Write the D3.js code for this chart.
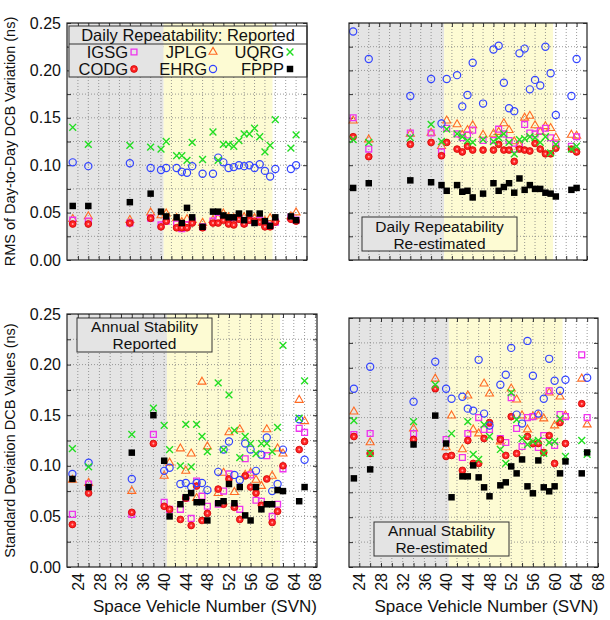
<!DOCTYPE html>
<html>
<head>
<meta charset="utf-8">
<script src="https://cdn.jsdelivr.net/npm/d3@7"></script>
<style>
  body { margin: 0; background: #fff; }
  svg text { font-family: Arial, "Liberation Sans", sans-serif; }
</style>
</head>
<body>
<script>
const WIDTH = 610
const HEIGHT = 620

// ---- data ----
const svnDaily = [23, 26, 34, 38, 40, 41, 43, 44, 45, 46, 48, 50, 51, 52, 53, 54, 55, 56, 57, 58, 59, 60, 61, 62, 65, 66]
const svnAnnual = [23, 26, 34, 38, 40, 41, 43, 44, 45, 46, 47, 48, 50, 51, 52, 53, 54, 55, 56, 57, 58, 59, 60, 61, 62, 65, 66]

// daily repeatability, reported
const repIGSG = [.042, .041, .039, .044, .037, .041, .038, .033, .037, .041, .035, .041, .044, .043, .040, .039, .044, .039, .042, .040, .042, .038, .036, .040, .045, .042]
const repJPLG = [.043, .046, .042, .050, .047, .049, .044, .040, .043, .042, .039, .042, .044, .049, .045, .044, .046, .045, .044, .044, .042, .041, .044, .043, .046, .050]
const repUQRG = [.140, .122, .121, .119, .117, .125, .110, .110, .105, .124, .106, .135, .105, .122, .122, .120, .126, .133, .133, .139, .130, .114, .121, .148, .118, .132]
const repCODG = [.038, .038, .039, .044, .035, .041, .034, .034, .034, .039, .034, .039, .039, .042, .038, .037, .043, .038, .042, .041, .040, .035, .035, .040, .043, .041]
const repEHRG = [.103, .099, .102, .097, .095, .097, .097, .093, .092, .099, .091, .091, .108, .103, .097, .098, .100, .099, .100, .097, .101, .094, .088, .096, .096, .100]
const repFPPP = [.057, .057, .061, .070, .051, .046, .045, .039, .055, .045, .035, .051, .051, .047, .045, .045, .049, .042, .049, .039, .049, .041, .036, .045, .046, .042]

// daily repeatability, re-estimated
const reIGSG = [.150, .117, .134, .134, .114, .139, .133, .129, .132, .137, .126, .126, .138, .133, .126, .117, .122, .143, .134, .133, .136, .139, .129, .122, .120, .130]
const reJPLG = [.147, .127, .133, .134, .120, .147, .143, .132, .137, .142, .132, .133, .135, .144, .137, .125, .121, .150, .152, .142, .135, .141, .139, .129, .132, .131]
const reUQRG = [.127, .124, .129, .143, .125, .138, .133, .130, .126, .124, .127, .125, .129, .133, .124, .112, .127, .128, .130, .129, .124, .130, .113, .122, .117, .120]
const reCODG = [.130, .109, .122, .124, .110, .124, .117, .114, .120, .116, .116, .116, .122, .116, .116, .104, .117, .116, .115, .123, .117, .112, .112, .118, .117, .114]
const reEHRG = [.241, .212, .173, .191, .144, .191, .195, .162, .174, .208, .165, .222, .226, .187, .160, .157, .218, .223, .180, .190, .184, .225, .197, .153, .173, .212]
const reFPPP = [.076, .081, .084, .082, .079, .073, .079, .072, .073, .066, .070, .081, .073, .077, .081, .071, .086, .074, .079, .075, .075, .071, .070, .067, .074, .076]

// annual stability, reported
const annIGSG = [.052, .082, .052, .131, .064, .057, .057, .068, .048, .085, .070, .060, .062, .075, .092, .060, .057, .107, .091, .066, .065, .110, .050, .062, .097, .137, .133]
const annJPLG = [.086, .083, .075, null, .090, .103, .117, .095, .112, .068, .183, .119, .073, .093, .133, .074, .136, .091, .093, .086, .080, .136, .090, .117, .112, .165, .144]
const annUQRG = [.117, .099, .131, .157, .140, .116, .100, .141, .099, .141, .129, .114, .182, .116, .170, .135, .108, .129, .122, .112, .122, .122, .114, .138, .219, .147, .184]
const annCODG = [.042, .073, .054, .122, .060, .057, .047, .068, .041, .080, .046, .053, .077, .062, .087, .059, .047, .090, .079, .073, .061, .087, .044, .055, .100, .116, .124]
const annEHRG = [.092, .103, .087, null, .095, .098, .082, .083, .079, .083, .083, .076, .094, .116, .124, .091, .086, .122, .116, .095, .111, .128, .075, .082, .116, .146, .106]
const annFPPP = [.087, .079, .113, .150, .105, .050, .062, .069, .073, .064, .064, .046, .063, .065, .082, .063, .079, .051, .046, .079, .057, .062, .062, .076, .075, .065, .079]

// annual stability, re-estimated
const ansIGSG = [.133, .134, .134, null, .128, null, .110, .134, null, .150, .138, .138, .129, .125, .170, .139, .121, .150, .151, .120, .132, .177, .122, .153, .151, .213, .150]
const ansJPLG = [.156, .125, .139, .189, .120, .152, .118, .172, .138, .134, .184, .174, .126, null, .179, .168, .152, .138, .151, .152, .149, .175, .142, .171, .152, .189, .143]
const ansUQRG = [.147, .114, .146, .183, null, .134, null, .146, .113, .108, .143, .131, .118, .104, .175, .148, .129, .123, .126, .127, .114, .125, .126, .149, .111, .127, .113]
const ansCODG = [.131, .114, .128, .179, .111, .112, .097, .127, .104, .104, .129, .145, .128, .112, .151, .114, null, .131, .124, .124, .115, .132, .104, .145, .124, .164, null]
const ansEHRG = [.179, .201, .166, .206, .179, .169, .171, .159, .157, .208, .154, .142, .183, .193, .220, .153, .144, .227, .192, .154, .169, .209, .187, .177, .188, null, .190]
const ansFPPP = [.089, .098, .123, .152, .124, .070, .091, .091, .102, .090, .080, .071, .082, .085, .101, .094, .108, .081, .074, .107, .080, .076, .081, .094, .106, .094, .115]

const centers = ['IGSG', 'JPLG', 'UQRG', 'CODG', 'EHRG', 'FPPP']
const blockEdges = [40.5, 61.5] // IIA | IIR | IIF
const yTicks = [0, 0.05, 0.10, 0.15, 0.20, 0.25]
const xTickLabels = [24, 28, 32, 36, 40, 44, 48, 52, 56, 60, 64, 68]
const yTitles = ['RMS of Day-to-Day DCB Variation (ns)', 'Standard Deviation DCB Values (ns)']
const xTitle = 'Space Vehicle Number (SVN)'

// ---- styles ----
const GRAY = '#e4e4e4'
const YELLOW = '#fdfbd3'
const FONT = 'Arial, "Liberation Sans", sans-serif'

const svg = d3.select('body').append('svg').attr('width', WIDTH).attr('height', HEIGHT)

const sym = (type, size) => d3.symbol().type(type).size(size)()

// how each centre is drawn
const marks = {
  IGSG: g => g.append('path').attr('d', sym(d3.symbolSquare, 34)).attr('fill', 'none').attr('stroke', '#ee33ee').attr('stroke-width', 1.3),
  JPLG: g => g.append('path').attr('d', sym(d3.symbolTriangle, 28)).attr('fill', 'none').attr('stroke', '#ff6a22').attr('stroke-width', 1.1),
  UQRG: g => g.append('path').attr('d', sym(d3.symbolTimes, 32)).attr('fill', 'none').attr('stroke', '#22dd22').attr('stroke-width', 1.4),
  CODG: g => {
    g.append('circle').attr('r', 3.4).attr('fill', '#ff2525').attr('stroke', '#d00000').attr('stroke-width', 0.8)
    g.append('circle').attr('r', 1).attr('fill', '#ffaaaa')
  },
  EHRG: g => g.append('circle').attr('r', 3.6).attr('fill', 'none').attr('stroke', '#3344ff').attr('stroke-width', 1.2),
  FPPP: g => g.append('path').attr('d', sym(d3.symbolSquare, 42)).attr('fill', '#000')
}
const drawOrder = ['JPLG', 'IGSG', 'CODG', 'EHRG', 'UQRG', 'FPPP']

// block shading between two pixel x bounds
function shade(g, x, px0, px1, py0, py1) {
  const edges = [x.invert(px0), blockEdges[0], blockEdges[1], x.invert(px1)]
  const fills = [GRAY, YELLOW, '#fff']
  fills.forEach((f, i) => {
    const a = Math.max(px0, x(edges[i])), b = Math.min(px1, x(edges[i + 1]))
    if (b > a) g.append('rect').attr('x', a).attr('y', py0).attr('width', b - a).attr('height', py1 - py0).attr('fill', f)
  })
}

function textBox(g, x, b, lines) {
  shade(g, x, b.x0, b.x1, b.y0, b.y1)
  g.append('rect').attr('x', b.x0).attr('y', b.y0).attr('width', b.x1 - b.x0).attr('height', b.y1 - b.y0)
    .attr('fill', 'none').attr('stroke', '#333').attr('stroke-width', 1)
  lines.forEach((t, i) => g.append('text').attr('x', (b.x0 + b.x1) / 2).attr('y', b.base[i])
    .attr('text-anchor', 'middle').attr('font-size', 15.5).attr('fill', '#111').text(t))
}

const panels = [
  { svn: svnDaily, data: [repIGSG, repJPLG, repUQRG, repCODG, repEHRG, repFPPP], x0: 67, x1: 307, y0: 23, y1: 260, dom: [21.9, 68.1], yLab: true, xLab: false },
  { svn: svnDaily, data: [reIGSG, reJPLG, reUQRG, reCODG, reEHRG, reFPPP], x0: 349, x1: 587, y0: 23, y1: 260, dom: [22.2, 68.0], yLab: false, xLab: false,
    box: { x0: 362, x1: 517, y0: 217, y1: 251, base: [232, 248.5] }, lines: ['Daily Repeatability', 'Re-estimated'] },
  { svn: svnAnnual, data: [annIGSG, annJPLG, annUQRG, annCODG, annEHRG, annFPPP], x0: 67, x1: 317, y0: 314, y1: 567, dom: [22.0, 68.3], yLab: true, xLab: true,
    box: { x0: 77, x1: 212, y0: 318, y1: 352, base: [332, 348.5] }, lines: ['Annual Stability', 'Reported'] },
  { svn: svnAnnual, data: [ansIGSG, ansJPLG, ansUQRG, ansCODG, ansEHRG, ansFPPP], x0: 349, x1: 598, y0: 318, y1: 567, dom: [22.1, 68.0], yLab: false, xLab: true,
    box: { x0: 374, x1: 509, y0: 522, y1: 556, base: [536, 552.5] }, lines: ['Annual Stability', 'Re-estimated'] }
]

panels.forEach((p, pi) => {
  const g = svg.append('g')
  const x = d3.scaleLinear().domain(p.dom).range([p.x0, p.x1])
  const y = d3.scaleLinear().domain([0, 0.25]).range([p.y1, p.y0])

  shade(g, x, p.x0, p.x1, p.y0, p.y1)

  // dotted grid
  const xMinor = d3.range(24, 68.01, 2)
  const xGrid = xMinor.filter(v => x(v) > p.x0 + 1 && x(v) < p.x1 - 1)
  const yMinor = d3.range(1, 10).map(i => i * 0.025)
  g.append('g').selectAll('line').data(xGrid).join('line')
    .attr('x1', d => x(d)).attr('x2', d => x(d)).attr('y1', p.y0).attr('y2', p.y1)
    .attr('stroke', '#808080').attr('stroke-width', 0.8).attr('stroke-dasharray', '1,2')
  g.append('g').selectAll('line').data(yMinor).join('line')
    .attr('y1', d => y(d)).attr('y2', d => y(d)).attr('x1', p.x0).attr('x2', p.x1)
    .attr('stroke', '#808080').attr('stroke-width', 0.8).attr('stroke-dasharray', '1,2')

  // axes (inward ticks all round)
  const yAll = d3.range(0, 11).map(i => i * 0.025)
  const isMajor = v => yTicks.some(t => Math.abs(t - v) < 1e-9)
  g.append('g').attr('transform', `translate(${p.x0},0)`)
    .call(d3.axisLeft(y).tickValues(yAll).tickSize(-4).tickPadding(6)
      .tickFormat(d => p.yLab && isMajor(d) ? d3.format('.2f')(d) : ''))
    .call(a => a.select('.domain').remove())
    .attr('font-size', 16).attr('font-family', FONT)
  g.append('g').attr('transform', `translate(${p.x1},0)`)
    .call(d3.axisRight(y).tickValues(yAll).tickSize(-4).tickFormat(''))
    .call(a => a.select('.domain').remove())
  g.append('g').attr('transform', `translate(0,${p.y0})`)
    .call(d3.axisTop(x).tickValues(xGrid).tickSize(-4).tickFormat(''))
    .call(a => a.select('.domain').remove())
  const xb = g.append('g').attr('transform', `translate(0,${p.y1})`)
    .call(d3.axisBottom(x).tickValues(xMinor).tickSize(-4)
      .tickFormat(d => p.xLab && xTickLabels.includes(d) ? d : ''))
    .call(a => a.select('.domain').remove())
    .attr('font-size', 16).attr('font-family', FONT)
  xb.selectAll('text').attr('transform', 'rotate(-90)').attr('x', -6).attr('y', 0).attr('dy', '0.35em').attr('text-anchor', 'end')
  g.selectAll('.tick line').attr('stroke', '#333')
  g.selectAll('.tick text').attr('fill', '#111')

  // panel text boxes
  if (p.box) textBox(g, x, p.box, p.lines)

  // legend (top-left only)
  if (pi === 0) {
    const L = { x0: 69, x1: 307, y0: 26, y1: 77, mid: 44 }
    shade(g, x, L.x0, L.x1, L.y0, L.y1)
    g.append('rect').attr('x', L.x0).attr('y', L.y0).attr('width', L.x1 - L.x0).attr('height', L.y1 - L.y0)
      .attr('fill', 'none').attr('stroke', '#333')
    g.append('line').attr('x1', L.x0).attr('x2', L.x1).attr('y1', L.mid).attr('y2', L.mid).attr('stroke', '#333')
    g.append('text').attr('x', (L.x0 + L.x1) / 2).attr('y', 41).attr('text-anchor', 'middle')
      .attr('font-size', 16.5).attr('fill', '#111').text('Daily Repeatability: Reported')
    const colEnd = [128, 207, 284]
    centers.forEach((c, i) => {
      const cx = colEnd[i % 3], cy = i < 3 ? 52 : 69
      g.append('text').attr('x', cx).attr('y', cy + 6).attr('text-anchor', 'end')
        .attr('font-size', 16.5).attr('fill', '#111').text(c)
      marks[c](g.append('g').attr('transform', `translate(${cx + 6},${cy})`))
    })
  }

  // points
  drawOrder.forEach(c => {
    const vals = p.data[centers.indexOf(c)]
    const pts = p.svn.map((s, i) => ({ s, v: vals[i] })).filter(d => d.v != null)
    g.append('g').selectAll('g').data(pts).join('g')
      .attr('transform', d => `translate(${x(d.s)},${y(d.v)})`)
      .each(function () { marks[c](d3.select(this)) })
  })

  // frame
  g.append('rect').attr('x', p.x0).attr('y', p.y0).attr('width', p.x1 - p.x0).attr('height', p.y1 - p.y0)
    .attr('fill', 'none').attr('stroke', '#222').attr('stroke-width', 1.2)

  if (p.xLab) {
    svg.append('text').attr('x', (p.x0 + p.x1) / 2 + 13).attr('y', 612).attr('text-anchor', 'middle')
      .attr('font-size', 17).attr('fill', '#111').text(xTitle)
  }
  if (p.yLab) {
    const cy = (p.y0 + p.y1) / 2
    svg.append('text').attr('transform', `translate(15,${cy}) rotate(-90)`).attr('text-anchor', 'middle')
      .attr('font-size', 14.5).attr('fill', '#111').text(yTitles[pi === 0 ? 0 : 1])
  }
})
</script>
</body>
</html>
